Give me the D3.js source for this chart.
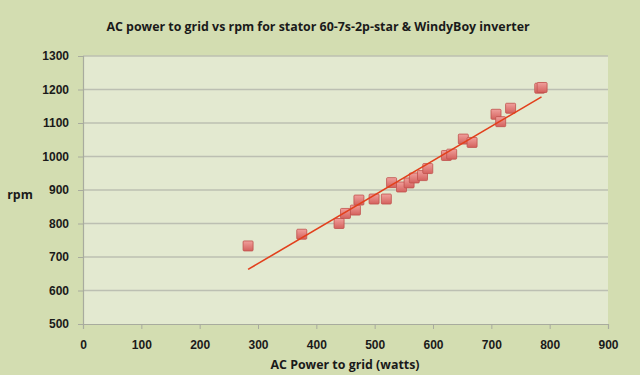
<!DOCTYPE html>
<html>
<head>
<meta charset="utf-8">
<script src="https://cdn.jsdelivr.net/npm/d3@7"></script>
<style>
  body { margin: 0; background: #d3ddb1; }
  svg { display: block; font-family: "Open Sans", "Liberation Sans", sans-serif; }
</style>
</head>
<body>
<div id="chart"></div>
<script>
// AC power to grid (watts) vs rpm
const powerW = [283, 375, 439, 450, 467, 473, 499, 520, 529, 546, 559, 568, 582, 591,
                623, 632, 652, 667, 708, 716, 733, 783, 787];
const rpm    = [733, 768, 800, 830, 840, 870, 873, 873, 922, 909, 921, 936, 943, 964,
                1003, 1007, 1052, 1042, 1126, 1104, 1144, 1204, 1206];
// linear trend line end points
const trendX = [283, 786];
const trendY = [663, 1178];

const xTicks = [0, 100, 200, 300, 400, 500, 600, 700, 800, 900];
const yTicks = [500, 600, 700, 800, 900, 1000, 1100, 1200, 1300];

const width = 640, height = 375;
const margin = { top: 56, right: 32, bottom: 51, left: 83 };
const w = width - margin.left - margin.right;
const h = height - margin.top - margin.bottom;

const svg = d3.select("#chart").append("svg")
    .attr("width", width)
    .attr("height", height);

svg.append("rect").attr("width", width).attr("height", height).attr("fill", "#d3ddb1");

const g = svg.append("g").attr("transform", `translate(${margin.left},${margin.top})`);

const x = d3.scaleLinear().domain([0, 900]).range([0, w]);
const y = d3.scaleLinear().domain([500, 1300]).range([h, 0]);

// plot area
g.append("rect").attr("width", w).attr("height", h).attr("fill", "#e3e9d0");

// gridlines
g.selectAll(".grid").data(yTicks.slice(1)).enter().append("line")
    .attr("x1", 0).attr("x2", w)
    .attr("y1", d => y(d)).attr("y2", d => y(d))
    .attr("stroke", "#bcbfb2").attr("stroke-width", 1.3);

// x axis
const xAxis = g.append("g")
    .attr("transform", `translate(0,${h})`)
    .call(d3.axisBottom(x).tickValues(xTicks).tickFormat(d3.format("d")).tickSize(5).tickPadding(11));
xAxis.select(".domain").attr("stroke", "#a8ab9e").attr("stroke-width", 1.2);
xAxis.selectAll(".tick line").attr("stroke", "#a8ab9e");
xAxis.selectAll("text").attr("font-size", 12).attr("font-weight", "bold").attr("fill", "#1a1a1a");

// y axis
const yAxis = g.append("g")
    .call(d3.axisLeft(y).tickValues(yTicks).tickFormat(d3.format("d")).tickSize(5).tickPadding(9));
yAxis.select(".domain").attr("stroke", "#a8ab9e").attr("stroke-width", 1.2);
yAxis.selectAll(".tick line").attr("stroke", "#a8ab9e");
yAxis.selectAll("text").attr("font-size", 12).attr("font-weight", "bold").attr("fill", "#1a1a1a");

// marker gradient
const defs = svg.append("defs");
const grad = defs.append("linearGradient").attr("id", "mk")
    .attr("x1", 0).attr("y1", 0).attr("x2", 0).attr("y2", 1);
grad.append("stop").attr("offset", "0%").attr("stop-color", "#f0a09c");
grad.append("stop").attr("offset", "100%").attr("stop-color", "#d4615d");

const pts = powerW.map((p, i) => ({ p, r: rpm[i] }));
const s = 10;
g.selectAll(".pt").data(pts).enter().append("rect")
    .attr("x", d => x(d.p) - s / 2)
    .attr("y", d => y(d.r) - s / 2)
    .attr("width", s).attr("height", s)
    .attr("rx", 1)
    .attr("fill", "url(#mk)")
    .attr("stroke", "#c0504d").attr("stroke-width", 0.8);

// trend line
g.append("line")
    .attr("x1", x(trendX[0])).attr("y1", y(trendY[0]))
    .attr("x2", x(trendX[1])).attr("y2", y(trendY[1]))
    .attr("stroke", "#e2401c").attr("stroke-width", 1.6);

// titles
svg.append("text")
    .attr("x", 318).attr("y", 31)
    .attr("text-anchor", "middle")
    .attr("font-size", 12.4).attr("font-weight", "bold").attr("fill", "#1a1a1a")
    .text("AC power to grid vs rpm for stator 60-7s-2p-star & WindyBoy inverter");

svg.append("text")
    .attr("x", 345).attr("y", 369)
    .attr("text-anchor", "middle")
    .attr("font-size", 12.4).attr("font-weight", "bold").attr("fill", "#1a1a1a")
    .text("AC Power to grid (watts)");

svg.append("text")
    .attr("x", 20).attr("y", 199)
    .attr("text-anchor", "middle")
    .attr("font-size", 12.4).attr("font-weight", "bold").attr("fill", "#1a1a1a")
    .text("rpm");
</script>
</body>
</html>
